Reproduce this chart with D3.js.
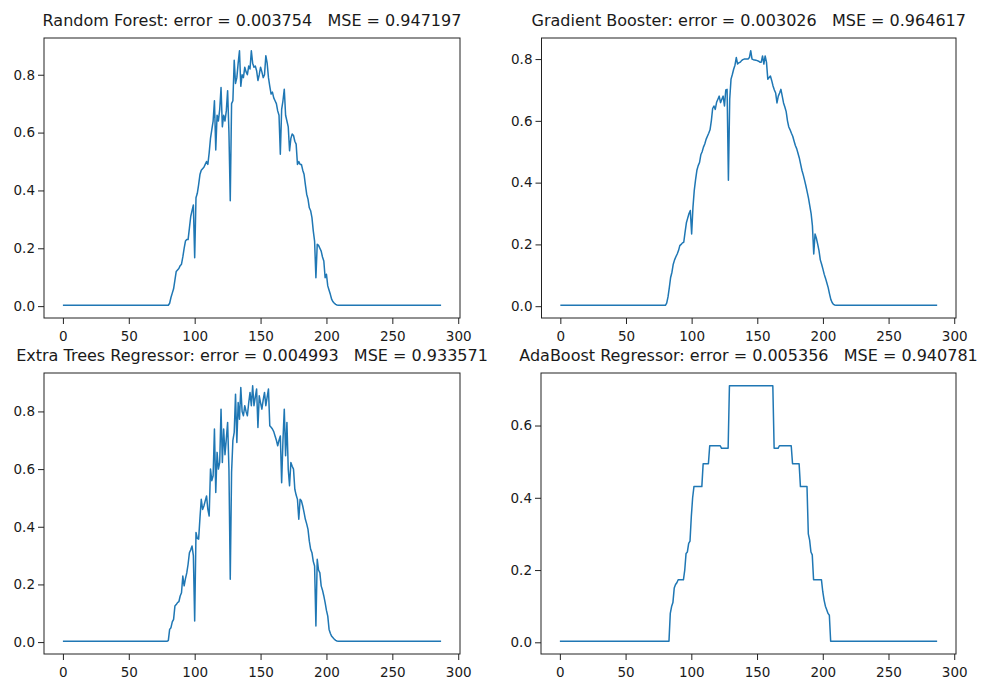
<!DOCTYPE html>
<html>
<head>
<meta charset="utf-8">
<script src="https://cdn.jsdelivr.net/npm/d3@7/dist/d3.min.js"></script>
<style>
  body { margin: 0; background: #fff; }
  svg { display: block; }
  text { font-family: "DejaVu Sans", sans-serif; fill: #1a1a1a; white-space: pre; }
</style>
</head>
<body>
<svg id="chart" width="985" height="684"></svg>
<script>
// titles of the four subplots
const titles = [
  'Random Forest: error = 0.003754   MSE = 0.947197',
  'Gradient Booster: error = 0.003026   MSE = 0.964617',
  'Extra Trees Regressor: error = 0.004993   MSE = 0.933571',
  'AdaBoost Regressor: error = 0.005356   MSE = 0.940781'
]

const xTicks = [0, 50, 100, 150, 200, 250, 300]

// one day of 5-minute samples, index 0..287
const sampleCount = 288
// the values below start at sample 79 and end at sample 211,
// outside of that the curves stay flat at the edge level
const windowStart = 79
const edgeLevels = [0.003, 0.003, 0.003, 0.003]

const forestY = [
  0.003, 0.003, 0.01, 0.03, 0.045, 0.06, 0.09, 0.12, 0.125, 0.13,
  0.14, 0.145, 0.17, 0.2, 0.225, 0.23, 0.23, 0.27, 0.31, 0.33,
  0.35, 0.167, 0.375, 0.39, 0.42, 0.455, 0.47, 0.475, 0.48, 0.49,
  0.5, 0.49, 0.53, 0.58, 0.61, 0.64, 0.71, 0.54, 0.66, 0.64,
  0.68, 0.756, 0.62, 0.66, 0.64, 0.675, 0.745, 0.6, 0.364, 0.7,
  0.71, 0.85, 0.77, 0.79, 0.84, 0.883, 0.76, 0.8, 0.79, 0.826,
  0.81, 0.8, 0.83, 0.82, 0.883, 0.84, 0.826, 0.83, 0.814, 0.78,
  0.8, 0.826, 0.81, 0.79, 0.8, 0.866, 0.84, 0.79, 0.76, 0.733,
  0.74, 0.72, 0.71, 0.7, 0.675, 0.66, 0.525, 0.68, 0.71, 0.75,
  0.66, 0.64, 0.62, 0.537, 0.58, 0.595, 0.59, 0.57, 0.56, 0.49,
  0.5, 0.49, 0.49, 0.47, 0.456, 0.42, 0.387, 0.37, 0.34, 0.33,
  0.306, 0.26, 0.225, 0.098, 0.214, 0.21, 0.2, 0.19, 0.17, 0.156,
  0.098, 0.11, 0.07, 0.055, 0.04, 0.023, 0.015, 0.01, 0.006, 0.004,
  0.003, 0.003, 0.003
]

const boosterY = [
  0.003, 0.003, 0.01, 0.03, 0.06, 0.093, 0.11, 0.136, 0.15, 0.16,
  0.169, 0.18, 0.196, 0.2, 0.205, 0.207, 0.24, 0.27, 0.285, 0.3,
  0.31, 0.234, 0.32, 0.375, 0.41, 0.44, 0.455, 0.465, 0.49, 0.5,
  0.515, 0.525, 0.54, 0.55, 0.56, 0.571, 0.6, 0.64, 0.648, 0.637,
  0.66, 0.67, 0.68, 0.659, 0.67, 0.68, 0.648, 0.7, 0.702, 0.408,
  0.67, 0.735, 0.75, 0.767, 0.78, 0.805, 0.784, 0.788, 0.79, 0.795,
  0.798, 0.8, 0.8, 0.8, 0.8, 0.805, 0.827, 0.8, 0.798, 0.797,
  0.796, 0.795, 0.793, 0.79, 0.79, 0.81, 0.784, 0.81, 0.79, 0.735,
  0.74, 0.745, 0.73, 0.713, 0.7, 0.69, 0.658, 0.68, 0.69, 0.702,
  0.68, 0.658, 0.645, 0.63, 0.6, 0.58, 0.571, 0.56, 0.55, 0.535,
  0.52, 0.51, 0.495, 0.48, 0.46, 0.44, 0.425, 0.408, 0.39, 0.37,
  0.35, 0.325, 0.3, 0.26, 0.169, 0.234, 0.22, 0.201, 0.18, 0.15,
  0.136, 0.12, 0.103, 0.09, 0.075, 0.06, 0.04, 0.022, 0.012, 0.006,
  0.004, 0.003, 0.003
]

const extraTreesY = [
  0.003, 0.005, 0.044, 0.05, 0.07, 0.079, 0.125, 0.13, 0.137, 0.14,
  0.16, 0.171, 0.229, 0.195, 0.22, 0.24, 0.27, 0.31, 0.32, 0.333,
  0.3, 0.073, 0.38, 0.36, 0.357, 0.43, 0.495, 0.46, 0.472, 0.49,
  0.507, 0.46, 0.437, 0.6, 0.56, 0.577, 0.739, 0.519, 0.658, 0.6,
  0.623, 0.808, 0.623, 0.739, 0.65, 0.704, 0.762, 0.6, 0.218, 0.588,
  0.7, 0.727, 0.86, 0.692, 0.831, 0.773, 0.883, 0.8, 0.785, 0.82,
  0.8, 0.785, 0.83, 0.866, 0.82, 0.889, 0.82, 0.85, 0.878, 0.744,
  0.854, 0.83, 0.808, 0.84, 0.866, 0.82, 0.85, 0.878, 0.75, 0.745,
  0.739, 0.73, 0.715, 0.7, 0.681, 0.7, 0.715, 0.553, 0.7, 0.808,
  0.646, 0.762, 0.6, 0.542, 0.623, 0.61, 0.6, 0.53, 0.51, 0.495,
  0.426, 0.495, 0.49, 0.472, 0.45, 0.426, 0.41, 0.391, 0.35, 0.322,
  0.31, 0.28, 0.264, 0.056, 0.287, 0.25, 0.24, 0.195, 0.18, 0.16,
  0.137, 0.11, 0.09, 0.044, 0.03, 0.02, 0.015, 0.01, 0.006, 0.004,
  0.003, 0.003, 0.003
]

const adaBoostY = [
  0.003, 0.003, 0.003, 0.003, 0.003, 0.08, 0.099, 0.11, 0.15, 0.16,
  0.165, 0.173, 0.173, 0.173, 0.173, 0.173, 0.2, 0.246, 0.25, 0.274,
  0.28, 0.348, 0.4, 0.431, 0.431, 0.431, 0.431, 0.431, 0.431, 0.431,
  0.494, 0.494, 0.494, 0.494, 0.494, 0.544, 0.544, 0.544, 0.544, 0.544,
  0.544, 0.544, 0.544, 0.544, 0.537, 0.537, 0.537, 0.537, 0.537, 0.537,
  0.71, 0.71, 0.71, 0.71, 0.71, 0.71, 0.71, 0.71, 0.71, 0.71,
  0.71, 0.71, 0.71, 0.71, 0.71, 0.71, 0.71, 0.71, 0.71, 0.71,
  0.71, 0.71, 0.71, 0.71, 0.71, 0.71, 0.71, 0.71, 0.71, 0.71,
  0.71, 0.71, 0.71, 0.71, 0.537, 0.537, 0.537, 0.537, 0.544, 0.544,
  0.544, 0.544, 0.544, 0.544, 0.544, 0.544, 0.544, 0.544, 0.494, 0.494,
  0.494, 0.494, 0.494, 0.494, 0.431, 0.431, 0.431, 0.431, 0.431, 0.431,
  0.3, 0.283, 0.25, 0.242, 0.173, 0.173, 0.173, 0.173, 0.173, 0.173,
  0.173, 0.14, 0.117, 0.1, 0.09, 0.08, 0.075, 0.003, 0.003, 0.003,
  0.003, 0.003, 0.003
]

const seriesList = [forestY, boosterY, extraTreesY, adaBoostY]

// axes boxes of the 2x2 grid
const frames = [
  { left: 44, top: 38, right: 460, bottom: 318 },
  { left: 541.5, top: 38, right: 956, bottom: 318 },
  { left: 44, top: 373, right: 460, bottom: 654 },
  { left: 541, top: 373, right: 956, bottom: 654 }
]

const lineColor = '#1f77b4'
const tickFont = 13.5
const titleFont = 16

function seriesPoints(values, edge) {
  const pts = [[0, edge]]
  values.forEach((v, i) => pts.push([windowStart + i, v]))
  pts.push([sampleCount - 1, edge])
  return pts
}

// matplotlib style 5% margin
function padded(extent) {
  const m = (extent[1] - extent[0]) * 0.05
  return [extent[0] - m, extent[1] + m]
}

const svg = d3.select('#chart')
svg.append('rect').attr('width', 985).attr('height', 684).attr('fill', '#fff')

frames.forEach((f, i) => {
  const pts = seriesPoints(seriesList[i], edgeLevels[i])
  const x = d3.scaleLinear()
    .domain(padded(d3.extent(pts, d => d[0])))
    .range([f.left, f.right])
  const y = d3.scaleLinear()
    .domain(padded(d3.extent(pts, d => d[1])))
    .range([f.bottom, f.top])

  const g = svg.append('g').attr('class', 'panel')

  const line = d3.line()
    .x(d => x(d[0]))
    .y(d => y(d[1]))

  g.append('path')
    .datum(pts)
    .attr('d', line)
    .attr('fill', 'none')
    .attr('stroke', lineColor)
    .attr('stroke-width', 1.5)
    .attr('stroke-linejoin', 'round')

  // spines
  g.append('rect')
    .attr('x', f.left)
    .attr('y', f.top)
    .attr('width', f.right - f.left)
    .attr('height', f.bottom - f.top)
    .attr('fill', 'none')
    .attr('stroke', '#222')
    .attr('stroke-width', 1)

  const xAxis = g.append('g')
    .attr('transform', `translate(0,${f.bottom})`)
    .call(d3.axisBottom(x).tickValues(xTicks).tickFormat(d3.format('d')).tickSize(6).tickPadding(7))
  const yAxis = g.append('g')
    .attr('transform', `translate(${f.left},0)`)
    .call(d3.axisLeft(y).ticks(5).tickFormat(d3.format('.1f')).tickSize(6).tickPadding(3))

  ;[xAxis, yAxis].forEach(ax => {
    ax.select('.domain').remove()
    ax.selectAll('line').attr('stroke', '#222')
    ax.selectAll('text')
      .attr('fill', '#1a1a1a')
      .style('font-size', tickFont + 'px')
      .style('font-family', '"DejaVu Sans", sans-serif')
  })
})

// titles drawn last so the lower ones sit over the upper tick labels
frames.forEach((f, i) => {
  const tg = svg.append('g')
  const t = tg.append('text')
    .attr('x', (f.left + f.right) / 2)
    .attr('y', f.top - 12)
    .attr('text-anchor', 'middle')
    .attr('xml:space', 'preserve')
    .style('font-size', titleFont + 'px')
    .text(titles[i])
  if (i >= 2) {
    const b = t.node().getBBox()
    tg.insert('rect', 'text')
      .attr('x', b.x - 2)
      .attr('y', b.y + 3)
      .attr('width', b.width + 4)
      .attr('height', b.height - 3)
      .attr('fill', '#fff')
  }
})
</script>
</body>
</html>
